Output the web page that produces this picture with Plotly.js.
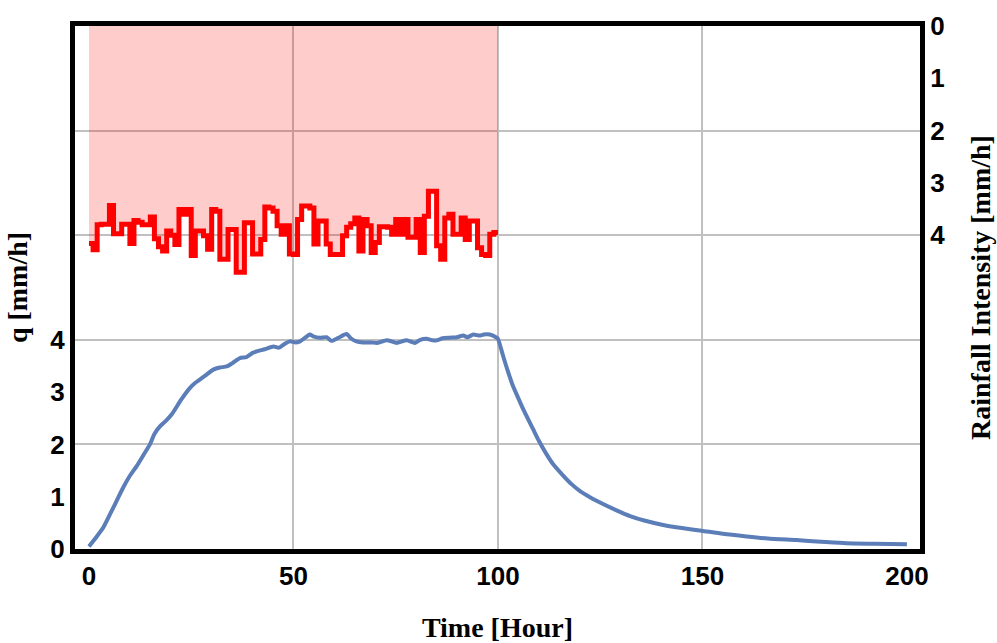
<!DOCTYPE html>
<html>
<head>
<meta charset="utf-8">
<script src="https://cdn.plot.ly/plotly-3.0.1.min.js"></script>
<style>html,body{margin:0;padding:0;background:#fff;}#chart{width:997px;height:643px;}</style>
</head>
<body>
<div id="chart"></div>
<script>
// Rainfall intensity (mm/h), hourly steps from hour 0 to 99 (last value repeated at hour 100)
const rainHours = [];
for (let h = 0; h <= 100; h++) rainHours.push(h);
const rainValues = [
  4.16, 4.28, 3.80, 3.79, 3.79, 3.43, 3.97, 3.97, 3.79, 3.79,
  4.16, 3.72, 3.75, 3.80, 3.80, 3.65, 4.07, 4.22, 4.30, 3.92,
  4.00, 4.18, 3.51, 3.60, 3.51, 4.39, 3.92, 3.92, 4.01, 4.27,
  3.51, 3.54, 4.46, 4.46, 3.89, 3.89, 4.71, 4.71, 3.76, 3.76,
  4.36, 4.36, 4.08, 3.46, 3.48, 3.54, 3.82, 3.98, 3.82, 4.36,
  4.37, 3.70, 3.44, 3.44, 3.48, 4.17, 3.73, 3.73, 4.17, 4.37,
  4.37, 4.37, 4.01, 3.85, 3.78, 3.67, 4.30, 3.70, 3.82, 4.33,
  4.14, 3.84, 3.84, 3.85, 3.98, 3.70, 3.98, 3.70, 4.04, 4.04,
  3.70, 4.33, 3.64, 3.16, 3.16, 4.20, 4.46, 3.67, 3.60, 3.98,
  3.98, 3.67, 4.08, 3.73, 3.73, 4.24, 4.37, 4.39, 3.98, 3.95,
  3.95
];

// Discharge q (mm/h)
const qTime = [
  0, 2, 3.5, 6, 8.4, 10, 11.7, 13.5, 14.9, 16, 17.4, 18.8, 20.2, 22.5, 24.7, 26, 27.1, 28.5,
  30.4, 32, 33.7, 35, 36.9, 38.5, 40, 41, 43, 45.1, 46.5, 48, 49.1, 50.5, 51.6, 53, 54, 55,
  56.5, 58.1, 59.3, 61, 63, 64, 65.4, 67, 69, 70.5, 72.8, 74, 75.2, 77.7, 79.7, 81, 82.5, 84,
  85, 86.5, 88.2, 90, 91.5, 92.5, 94, 95.5, 96.5, 98, 99.7, 100, 101.3, 102.5, 103.7, 105,
  106.2, 108.6, 110, 111.9, 113.5, 116, 118, 120, 122.5, 125.7, 129, 132.3, 136, 140.4, 145,
  149.8, 155, 160.8, 166, 173, 179, 185.2, 192, 200
];
const qValues = [
  0.05, 0.25, 0.41, 0.80, 1.18, 1.40, 1.59, 1.82, 2.00, 2.20, 2.35, 2.45, 2.57, 2.85, 3.08, 3.18, 3.24, 3.32,
  3.43, 3.47, 3.49, 3.55, 3.65, 3.67, 3.75, 3.78, 3.82, 3.87, 3.85, 3.93, 3.97, 3.95, 3.97, 4.05, 4.10, 4.06,
  4.04, 4.05, 3.98, 4.04, 4.11, 4.03, 3.97, 3.95, 3.95, 3.94, 3.99, 3.97, 3.94, 3.99, 3.94, 4.00, 4.02, 3.99,
  3.99, 4.03, 4.04, 4.05, 4.08, 4.05, 4.10, 4.08, 4.10, 4.10, 4.04, 4.02, 3.68, 3.38, 3.11, 2.88,
  2.67, 2.29, 2.07, 1.81, 1.62, 1.40, 1.24, 1.11, 0.99, 0.86, 0.74, 0.63, 0.54, 0.46, 0.40,
  0.35, 0.29, 0.24, 0.20, 0.17, 0.14, 0.11, 0.10, 0.09
];

const xTicks = [0, 50, 100, 150, 200];
const xGridVals = [50, 100, 150];
const qTicks = [0, 1, 2, 3, 4];
const rainTicks = [0, 1, 2, 3, 4];
const yGridVals = [2, 4, 6, 8];

const xRange = [-3.42, 203.2];
const qRange = [0, 10];
const rainRange = [10, 0];

const tickFontY = {family: 'Liberation Sans, Arial, sans-serif', size: 26, color: '#000', weight: 'bold'};
const tickFontX = {family: 'Liberation Sans, Arial, sans-serif', size: 26, color: '#000', weight: 'bold'};
const titleFont = {family: 'Liberation Serif, Times New Roman, serif', size: 28, color: '#000', weight: 'bold'};

const traces = [
  {
    // helper for the grid-only overlay axes (fully transparent)
    x: qTime, y: qValues, xaxis: 'x3', yaxis: 'y3',
    type: 'scatter', mode: 'lines', line: {width: 0, color: 'rgba(0,0,0,0)'}, opacity: 0, hoverinfo: 'skip'
  },
  {
    x: rainHours, y: rainValues, xaxis: 'x', yaxis: 'y2',
    type: 'scatter', mode: 'lines', line: {shape: 'hv', color: '#ff0000', width: 5},
    fill: 'tozeroy', fillcolor: 'rgba(255,0,0,0.2)', hoverinfo: 'skip'
  },
  {
    x: qTime, y: qValues, xaxis: 'x', yaxis: 'y',
    type: 'scatter', mode: 'lines', line: {color: '#5b7db8', width: 4, shape: 'spline', smoothing: 0.6}, hoverinfo: 'skip'
  }
];

const layout = {
  width: 997, height: 643,
  margin: {l: 75, r: 77, t: 26, b: 94, pad: 0},
  paper_bgcolor: '#fff', plot_bgcolor: '#fff',
  showlegend: false,
  xaxis: {
    range: xRange, tickmode: 'array', tickvals: xTicks, showgrid: false, zeroline: false,
    showline: true, mirror: true, linecolor: '#000', linewidth: 5, ticks: '',
    tickfont: tickFontX,
    title: {text: 'Time [Hour]', font: titleFont, standoff: 29}
  },
  yaxis: {
    range: qRange, tickmode: 'array', tickvals: qTicks, showgrid: false, zeroline: false,
    showline: true, mirror: true, linecolor: '#000', linewidth: 5, ticks: '',
    tickfont: tickFontY,
    title: {text: 'q [mm/h]', font: titleFont, standoff: 16}
  },
  yaxis2: {
    overlaying: 'y', side: 'right', anchor: 'x',
    range: rainRange, tickmode: 'array', tickvals: rainTicks, showgrid: false, zeroline: false,
    showline: true, linecolor: '#000', linewidth: 5, ticks: '', tickfont: tickFontY,
    title: {text: 'Rainfall Intensity [mm/h]', font: titleFont, standoff: 28}
  },
  xaxis3: {
    overlaying: 'x', anchor: 'y3', range: xRange, tickmode: 'array', tickvals: xGridVals,
    showgrid: true, gridcolor: '#c0c0c0', gridwidth: 2, showticklabels: false, ticks: '',
    showline: false, zeroline: false
  },
  yaxis3: {
    overlaying: 'y', anchor: 'x3', range: qRange, tickmode: 'array', tickvals: yGridVals,
    showgrid: true, gridcolor: '#c0c0c0', gridwidth: 2, showticklabels: false, ticks: '',
    showline: false, zeroline: false
  }
};

Plotly.newPlot('chart', traces, layout, {staticPlot: true, displayModeBar: false});
</script>
</body>
</html>
